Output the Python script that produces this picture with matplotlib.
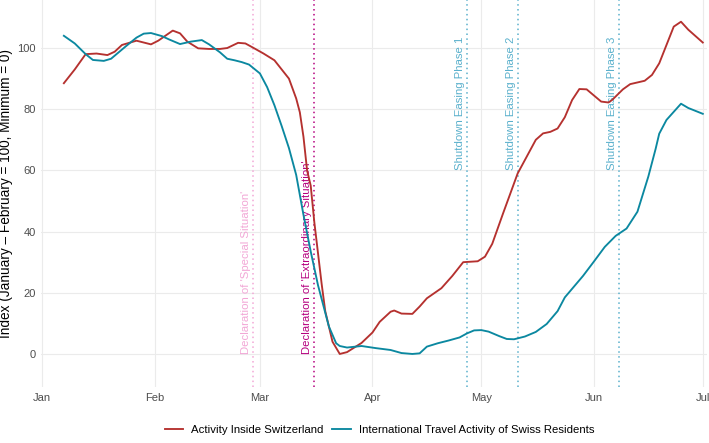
import numpy as np
import pandas as pd
import matplotlib
matplotlib.use('Agg')
import matplotlib.pyplot as plt
import matplotlib.dates as mdates

plt.rcParams['font.family'] = ['Liberation Sans', 'DejaVu Sans']

# activity inside Switzerland (index)
red_dates = ['01-07', '01-10', '01-13', '01-16', '01-19', '01-21', '01-23', '01-27',
             '01-31', '02-02', '02-06', '02-08', '02-10', '02-13', '02-16', '02-19',
             '02-21', '02-24', '02-26', '02-28', '03-02', '03-05', '03-09', '03-11',
             '03-12', '03-13', '03-14', '03-15', '03-16', '03-17', '03-18', '03-19',
             '03-21', '03-23', '03-25', '03-29', '04-01', '04-03', '04-06', '04-07',
             '04-09', '04-12', '04-14', '04-16', '04-20', '04-23', '04-26', '04-30',
             '05-02', '05-04', '05-07', '05-11', '05-16', '05-18', '05-20', '05-22',
             '05-24', '05-26', '05-28', '05-30', '05-31', '06-03', '06-05', '06-06',
             '06-09', '06-11', '06-15', '06-17', '06-19', '06-23', '06-25', '06-27',
             '07-01']
red_vals = [88.5, 93.0, 98.0, 98.2, 97.7, 98.8, 101.0, 102.4,
            101.2, 102.4, 105.7, 104.8, 102.1, 99.9, 99.7, 99.7,
            100.0, 101.7, 101.5, 100.2, 98.2, 96.0, 90.0, 83.5,
            79.0, 71.0, 60.0, 55.0, 43.0, 33.0, 23.0, 14.0,
            4.0, 0.0, 0.6, 3.6, 7.0, 10.5, 13.8, 14.2,
            13.2, 13.1, 15.5, 18.2, 21.5, 25.5, 30.0, 30.3,
            31.8, 36.0, 46.0, 59.0, 70.0, 72.1, 72.6, 73.7,
            77.4, 83.0, 86.6, 86.5, 85.5, 82.5, 82.2, 83.0,
            86.5, 88.2, 89.3, 91.2, 95.0, 107.0, 108.6, 106.0,
            101.8]

# international travel activity of swiss residents (index)
teal_dates = ['01-07', '01-10', '01-13', '01-15', '01-18', '01-20', '01-24', '01-27',
              '01-29', '01-31', '02-03', '02-05', '02-08', '02-11', '02-14', '02-16',
              '02-19', '02-21', '02-23', '02-25', '02-27', '03-01', '03-03', '03-05',
              '03-07', '03-09', '03-11', '03-13', '03-15', '03-17', '03-19', '03-20',
              '03-22', '03-23', '03-25', '03-29', '04-02', '04-06', '04-09', '04-12',
              '04-14', '04-16', '04-19', '04-22', '04-25', '04-27', '04-29', '05-01',
              '05-03', '05-06', '05-08', '05-10', '05-13', '05-16', '05-19', '05-22',
              '05-24', '05-29', '06-01', '06-04', '06-07', '06-10', '06-13', '06-16',
              '06-18', '06-19', '06-21', '06-25', '06-27', '07-01']
teal_vals = [104.0, 101.5, 98.0, 96.1, 95.8, 96.5, 100.5, 103.4,
             104.7, 104.9, 103.9, 102.8, 101.3, 102.1, 102.6, 101.2,
             98.6, 96.5, 96.0, 95.4, 94.6, 91.7, 87.2, 81.3,
             74.5, 67.3, 58.5, 45.5, 33.5, 22.5, 13.5, 9.0,
             3.5, 2.6, 2.1, 2.6, 1.9, 1.3, 0.3, 0.0,
             0.2, 2.4, 3.5, 4.4, 5.4, 6.7, 7.7, 7.8,
             7.3, 5.8, 4.9, 4.8, 5.7, 7.2, 9.8, 14.0,
             18.5, 25.5, 30.2, 35.0, 38.6, 41.0, 46.5, 58.0,
             67.0, 72.0, 76.5, 81.8, 80.4, 78.5]

# events
event_dates = ['02-28', '03-16', '04-27', '05-11', '06-08']
event_labels = ["Declaration of 'Special Situation'",
                "Declaration of 'Extraordinary Situation'",
                'Shutdown Easing Phase 1', 'Shutdown Easing Phase 2',
                'Shutdown Easing Phase 3']
event_label_y = [0, 0, 60, 60, 60]
event_colors = ['#F2A7D6', '#B5007F', '#5AB0CC', '#5AB0CC', '#5AB0CC']

red_c = '#B5312F'
teal_c = '#0B88A0'

def to_dt(lst):
    return pd.to_datetime(['2020-' + d for d in lst])

fig = plt.figure(figsize=(7.09, 4.43), dpi=100)
ax = fig.add_axes([0.0585, 0.1264, 0.9385, 0.8736])

for d, lab, ly, c in zip(to_dt(event_dates), event_labels, event_label_y, event_colors):
    ax.axvline(d, color=c, lw=1.1, ls=(0, (1, 2.2)), zorder=1)
    ax.text(d - pd.Timedelta(hours=14), ly, lab, rotation=90, ha='right', va='bottom',
            color=c, fontsize=8.2, zorder=1)

ax.plot(to_dt(red_dates), red_vals, color=red_c, lw=1.35, label='Activity Inside Switzerland', zorder=3)
ax.plot(to_dt(teal_dates), teal_vals, color=teal_c, lw=1.35,
        label='International Travel Activity of Swiss Residents', zorder=3)

ax.set_xlim(pd.Timestamp('2019-12-31 20:00'), pd.Timestamp('2020-07-02 03:00'))
ax.set_ylim(-10.8, 115.7)
ax.set_yticks([0, 20, 40, 60, 80, 100])
ax.xaxis.set_major_locator(mdates.MonthLocator())
ax.xaxis.set_major_formatter(mdates.DateFormatter('%b'))

ax.grid(True, color='#EBEBEB', lw=0.8, zorder=0)
ax.set_axisbelow(True)
for s in ax.spines.values():
    s.set_visible(False)
ax.tick_params(length=0, labelsize=8, labelcolor='#4D4D4D', pad=4)
ax.set_ylabel('Index (January – February = 100, Minimum = 0)', fontsize=9.8, labelpad=3)

fig.legend(loc='lower center', bbox_to_anchor=(0.535, -0.005), ncol=2, frameon=False,
           fontsize=8.2, handlelength=1.6, columnspacing=0.8, handletextpad=0.7)

fig.savefig('out.png', dpi=100)
